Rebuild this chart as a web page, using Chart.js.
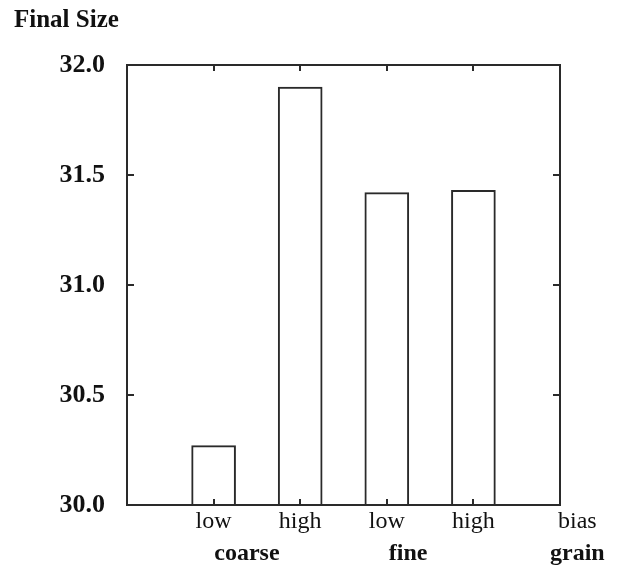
<!DOCTYPE html>
<html>
<head>
<meta charset="utf-8">
<script src="https://cdn.jsdelivr.net/npm/chart.js@4/dist/chart.umd.min.js"></script>
<style>
  body { margin: 0; background: #fff; }
  #wrap { width: 621px; height: 571px; }
</style>
</head>
<body>
<div id="wrap"><canvas id="ChartFinalSize"></canvas></div>
<script>
// data
var biasLevels = ['low', 'high', 'low', 'high'];
var grainGroups = ['coarse', 'fine'];
var finalSize = [30.27, 31.90, 31.42, 31.43];
var yTicks = [30.0, 30.5, 31.0, 31.5, 32.0];
var yTitle = 'Final Size';
var xTitle = 'bias';
var groupTitle = 'grain';

var serif = '"Liberation Serif", "Times New Roman", serif';
var ink = '#2a2a2a';

var points = finalSize.map(function (v, i) { return { x: i + 1, y: v }; });

// frame, inward ticks and the text under the axis
var framePlugin = {
    id: 'frame',
    afterDraw: function (chart) {
        var ctx = chart.ctx;
        var a = chart.chartArea;
        var xs = chart.scales.x;
        var ys = chart.scales.y;
        ctx.save();
        ctx.strokeStyle = ink;
        ctx.lineWidth = 2;
        ctx.strokeRect(a.left, a.top, a.right - a.left, a.bottom - a.top);

        ctx.beginPath();
        yTicks.forEach(function (t) {
            var py = Math.round(ys.getPixelForValue(t));
            if (t === yTicks[0] || t === yTicks[yTicks.length - 1]) return;
            ctx.moveTo(a.left, py); ctx.lineTo(a.left + 7, py);
            ctx.moveTo(a.right, py); ctx.lineTo(a.right - 7, py);
        });
        points.forEach(function (p) {
            var px = Math.round(xs.getPixelForValue(p.x));
            ctx.moveTo(px, a.bottom); ctx.lineTo(px, a.bottom - 6);
            ctx.moveTo(px, a.top); ctx.lineTo(px, a.top + 6);
        });
        ctx.stroke();

        ctx.fillStyle = '#111';
        ctx.textAlign = 'center';
        ctx.textBaseline = 'middle';
        ctx.font = '24px ' + serif;
        biasLevels.forEach(function (lab, i) {
            ctx.fillText(lab, xs.getPixelForValue(points[i].x), a.bottom + 17);
        });
        ctx.fillText(xTitle, xs.getPixelForValue(5.2), a.bottom + 17);

        ctx.font = 'bold 24px ' + serif;
        grainGroups.forEach(function (lab, g) {
            var mid = (points[g * 2].x + points[g * 2 + 1].x) / 2;
            ctx.fillText(lab, xs.getPixelForValue(mid) - (g === 0 ? 10 : 22), a.bottom + 49);
        });
        ctx.fillText(groupTitle, xs.getPixelForValue(5.2), a.bottom + 49);

        ctx.textAlign = 'left';
        ctx.font = 'bold 25px ' + serif;
        ctx.fillText(yTitle, 14, 21);
        ctx.restore();
    }
};

var ctx = document.getElementById('ChartFinalSize').getContext('2d');

var graph = new Chart(ctx, {
    type: 'bar',
    data: {
        datasets: [
            {
                label: yTitle,
                data: points,
                base: 30,
                backgroundColor: '#ffffff',
                borderColor: ink,
                borderWidth: 2,
                borderSkipped: 'start',
                barThickness: 44
            }
        ]
    },
    options: {
        responsive: true,
        maintainAspectRatio: false,
        animation: false,
        layout: { padding: { top: 65, right: 61, bottom: 66, left: 0 } },
        plugins: {
            legend: { display: false },
            tooltip: { enabled: false }
        },
        scales: {
            x: {
                type: 'linear',
                min: 0,
                max: 5,
                offset: false,
                grid: { display: false },
                border: { display: false },
                ticks: { display: false },
                afterFit: function (scale) { scale.height = 0; }
            },
            y: {
                min: yTicks[0],
                max: yTicks[yTicks.length - 1],
                grid: { display: false, drawTicks: false },
                border: { display: false },
                afterBuildTicks: function (scale) {
                    scale.ticks = yTicks.map(function (v) { return { value: v }; });
                },
                ticks: {
                    padding: 22,
                    color: '#111',
                    font: { family: serif, size: 26, weight: 'bold' },
                    callback: function (v) { return Number(v).toFixed(1); }
                },
                afterFit: function (scale) { scale.width = 127; }
            }
        }
    },
    plugins: [framePlugin]
});
</script>
</body>
</html>
